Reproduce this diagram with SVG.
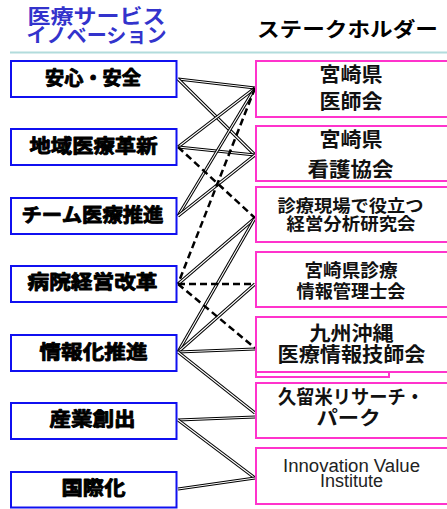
<svg xmlns="http://www.w3.org/2000/svg" xmlns:xlink="http://www.w3.org/1999/xlink" width="447" height="509" viewBox="0 0 447 509">
<style>
.bg{fill:#fff}
.lbox{fill:#fff;stroke:#1010F0;stroke-width:2}
.rbox{fill:#fff;stroke:#FF33CC;stroke-width:2}
.jp{font-family:"Noto Sans CJK JP","Noto Sans CJK SC",sans-serif;font-weight:bold;text-anchor:middle;fill:#000}
.lt{font-size:19px;stroke:#000;stroke-width:0.9px;stroke-linejoin:round}
.rt{fill:#111}
.en{font-family:"Liberation Sans",Arial,sans-serif;font-size:18px;text-anchor:middle;fill:#222}
.head{font-family:"Noto Sans CJK JP","Noto Sans CJK SC",sans-serif;font-weight:bold;font-size:20px}
.outer{fill:none;stroke:#000;stroke-width:3.2}
.inner{fill:none;stroke:#fff;stroke-width:1.1}
.dash{fill:none;stroke:#000;stroke-width:2.5;stroke-dasharray:7 4}
</style>
<defs>
<path id="c1" d="M178 79 L255 88"/>
<path id="c2" d="M178 79 L255 155"/>
<path id="c3" d="M178 147 L255 88"/>
<path id="c4" d="M178 147 L255 155"/>
<path id="c5" d="M178 216 L255 88"/>
<path id="c6" d="M178 216 L255 155"/>
<path id="c7" d="M178 284 L255 218"/>
<path id="c8" d="M178 352 L255 218"/>
<path id="c9" d="M178 352 L255 284"/>
<path id="c10" d="M178 352 L255 349"/>
<path id="c11" d="M178 352 L255 413"/>
<path id="c12" d="M178 420 L255 417"/>
<path id="c13" d="M178 420 L255 478"/>
<path id="c14" d="M178 489 L255 478"/>
</defs>
<rect class="bg" x="0" y="0" width="447" height="509"/>

<g id="header">
<text class="head" x="27.5" y="23.5" fill="#3333CC" textLength="138" lengthAdjust="spacingAndGlyphs">医療サービス</text>
<text class="head" x="26.5" y="43" fill="#3333CC" textLength="140" lengthAdjust="spacingAndGlyphs">イノベーション</text>
<text class="head" x="257" y="37" fill="#000" font-size="21" textLength="181" lengthAdjust="spacingAndGlyphs">ステークホルダー</text>
<line x1="10" y1="52.5" x2="447" y2="52.5" stroke="#B2DCDC" stroke-width="2"/>
</g>

<g id="connectors">
<use xlink:href="#c1" class="outer"/><use xlink:href="#c1" class="inner"/>
<use xlink:href="#c2" class="outer"/><use xlink:href="#c2" class="inner"/>
<use xlink:href="#c3" class="outer"/><use xlink:href="#c3" class="inner"/>
<use xlink:href="#c4" class="outer"/><use xlink:href="#c4" class="inner"/>
<use xlink:href="#c5" class="outer"/><use xlink:href="#c5" class="inner"/>
<use xlink:href="#c6" class="outer"/><use xlink:href="#c6" class="inner"/>
<use xlink:href="#c7" class="outer"/><use xlink:href="#c7" class="inner"/>
<use xlink:href="#c8" class="outer"/><use xlink:href="#c8" class="inner"/>
<use xlink:href="#c9" class="outer"/><use xlink:href="#c9" class="inner"/>
<use xlink:href="#c10" class="outer"/><use xlink:href="#c10" class="inner"/>
<use xlink:href="#c11" class="outer"/><use xlink:href="#c11" class="inner"/>
<use xlink:href="#c12" class="outer"/><use xlink:href="#c12" class="inner"/>
<use xlink:href="#c13" class="outer"/><use xlink:href="#c13" class="inner"/>
<use xlink:href="#c14" class="outer"/><use xlink:href="#c14" class="inner"/>
<path class="dash" d="M255 88 L178 284"/>
<path class="dash" d="M178 147 L255 218"/>
<path class="dash" d="M178 284 L255 284"/>
<path class="dash" d="M178 284 L255 348"/>
</g>

<g id="n-anshin"><rect class="lbox" x="11" y="61" width="165.5" height="36"/><text class="jp lt" x="93" y="85" textLength="96" lengthAdjust="spacingAndGlyphs">安心・安全</text></g>
<g id="n-chiiki"><rect class="lbox" x="11" y="129" width="165.5" height="36"/><text class="jp lt" x="93.5" y="152.5" textLength="128" lengthAdjust="spacingAndGlyphs">地域医療革新</text></g>
<g id="n-team"><rect class="lbox" x="11" y="198" width="165.5" height="36"/><text class="jp lt" x="92.5" y="221.5" textLength="142" lengthAdjust="spacingAndGlyphs">チーム医療推進</text></g>
<g id="n-byoin"><rect class="lbox" x="11" y="266" width="165.5" height="36"/><text class="jp lt" x="92.5" y="288.5" textLength="130" lengthAdjust="spacingAndGlyphs">病院経営改革</text></g>
<g id="n-joho"><rect class="lbox" x="11" y="335" width="165.5" height="36"/><text class="jp lt" x="93.5" y="358.5" textLength="108" lengthAdjust="spacingAndGlyphs">情報化推進</text></g>
<g id="n-sangyo"><rect class="lbox" x="11" y="403" width="165.5" height="36"/><text class="jp lt" x="92.5" y="425.5" textLength="86" lengthAdjust="spacingAndGlyphs">産業創出</text></g>
<g id="n-kokusai"><rect class="lbox" x="11" y="472" width="165.5" height="35.5"/><text class="jp lt" x="93.5" y="494.5" textLength="64" lengthAdjust="spacingAndGlyphs">国際化</text></g>

<g id="s-ishikai"><rect class="rbox" x="256" y="61" width="200" height="56"/>
<text class="jp rt" x="351" y="81.5" font-size="20" textLength="63" lengthAdjust="spacingAndGlyphs">宮崎県</text>
<text class="jp rt" x="351" y="108.5" font-size="20" textLength="63" lengthAdjust="spacingAndGlyphs">医師会</text></g>
<g id="s-kango"><rect class="rbox" x="256" y="126" width="200" height="55"/>
<text class="jp rt" x="351" y="146.5" font-size="20" textLength="63" lengthAdjust="spacingAndGlyphs">宮崎県</text>
<text class="jp rt" x="350.5" y="177" font-size="20" textLength="86" lengthAdjust="spacingAndGlyphs">看護協会</text></g>
<g id="s-kenkyu"><rect class="rbox" x="256" y="187" width="200" height="55"/>
<text class="jp rt" x="350.5" y="211.5" font-size="17" textLength="146" lengthAdjust="spacingAndGlyphs">診療現場で役立つ</text>
<text class="jp rt" x="351" y="229.5" font-size="17" textLength="129" lengthAdjust="spacingAndGlyphs">経営分析研究会</text></g>
<g id="s-kanrishi"><rect class="rbox" x="256" y="252" width="200" height="55"/>
<text class="jp rt" x="351" y="277" font-size="18" textLength="93" lengthAdjust="spacingAndGlyphs">宮崎県診療</text>
<text class="jp rt" x="351" y="298" font-size="18" textLength="109" lengthAdjust="spacingAndGlyphs">情報管理士会</text></g>
<g id="s-gishi"><rect class="rbox" x="256" y="322" width="133" height="55" stroke-width="1.5"/><rect class="rbox" x="256" y="317" width="200" height="55"/>
<text class="jp rt" x="351.5" y="340.5" font-size="20" textLength="84" lengthAdjust="spacingAndGlyphs">九州沖縄</text>
<text class="jp rt" x="351.5" y="361.5" font-size="20" textLength="148" lengthAdjust="spacingAndGlyphs">医療情報技師会</text></g>
<g id="s-kurume"><rect class="rbox" x="256" y="383" width="200" height="55"/>
<text class="jp rt" x="351" y="404" font-size="19" textLength="146" lengthAdjust="spacingAndGlyphs">久留米リサーチ・</text>
<text class="jp rt" x="348.5" y="425" font-size="19" textLength="64" lengthAdjust="spacingAndGlyphs">パーク</text></g>
<g id="s-ivi"><rect class="rbox" x="256" y="448" width="200" height="56"/>
<text class="en" x="351.5" y="472" textLength="137" lengthAdjust="spacingAndGlyphs">Innovation Value</text>
<text class="en" x="351.5" y="487">Institute</text></g>
</svg>
